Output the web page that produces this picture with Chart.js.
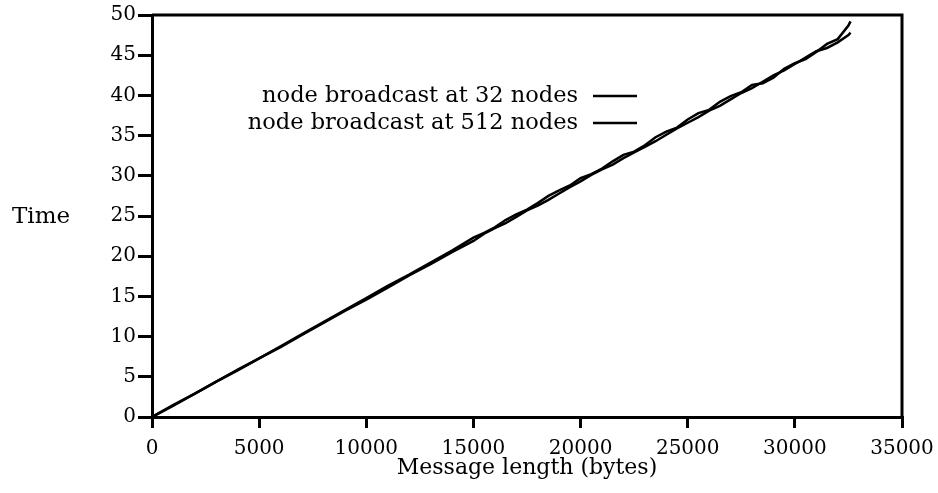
<!DOCTYPE html>
<html>
<head>
<meta charset="utf-8">
<script src="https://cdn.jsdelivr.net/npm/chart.js@4.4.1/dist/chart.umd.min.js"></script>
<style>
  html, body { margin: 0; padding: 0; background: #fff; }
  #wrap { width: 938px; height: 493px; }
</style>
</head>
<body>
<div id="wrap"><canvas id="timeChart"></canvas></div>
<script>
// Message length (bytes)
const bytes = [0, 1000, 2000, 3000, 4000, 5000, 6000, 7000, 8000, 9000, 10000,
    11000, 12000, 13000, 14000, 15000, 15500, 16000, 16500, 17000, 17500,
    18000, 18500, 19000, 19500, 20000, 20500, 21000, 21500, 22000, 22500,
    23000, 23500, 24000, 24500, 25000, 25500, 26000, 26500, 27000, 27500,
    28000, 28500, 29000, 29500, 30000, 30500, 31000, 31500, 32000, 32500, 32600];

// Time, node broadcast at 32 nodes
const time32 = [0, 1.5, 2.9, 4.4, 5.9, 7.3, 8.8, 10.3, 11.8, 13.3, 14.8,
    16.3, 17.7, 19.2, 20.7, 22.3, 22.9, 23.6, 24.5, 25.2, 25.8,
    26.6, 27.5, 28.2, 28.8, 29.7, 30.2, 30.9, 31.8, 32.6, 33.0,
    33.8, 34.8, 35.5, 36.0, 37.0, 37.8, 38.2, 39.2, 39.9, 40.4,
    41.3, 41.5, 42.2, 43.3, 44.0, 44.5, 45.4, 46.4, 47.0, 48.7, 49.2];

// Time, node broadcast at 512 nodes
const time512 = [0, 1.4, 2.9, 4.4, 5.8, 7.3, 8.7, 10.2, 11.7, 13.2, 14.6,
    16.1, 17.6, 19.0, 20.5, 21.9, 22.8, 23.5, 24.1, 24.9, 25.7,
    26.3, 27.0, 27.8, 28.6, 29.3, 30.1, 30.8, 31.4, 32.2, 32.9,
    33.6, 34.3, 35.1, 35.9, 36.6, 37.3, 38.1, 38.7, 39.5, 40.3,
    40.9, 41.7, 42.5, 43.1, 43.9, 44.7, 45.5, 45.9, 46.6, 47.5, 47.8];

const seriesLabels = ['node broadcast at 32 nodes', 'node broadcast at 512 nodes'];

const FONT = "'DejaVu Serif', 'Liberation Serif', serif";
Chart.defaults.font.family = FONT;
Chart.defaults.font.size = 20;
Chart.defaults.color = '#000';

function toPoints(ys) {
    return bytes.map((b, i) => ({ x: b, y: ys[i] }));
}

// box, legend and horizontal "Time" label
const extras = {
    id: 'extras',
    afterDraw(chart) {
        const ctx = chart.ctx;
        const a = chart.chartArea;
        ctx.save();
        ctx.strokeStyle = '#000';
        ctx.lineWidth = 3;
        ctx.beginPath();
        ctx.moveTo(a.left, a.top);
        ctx.lineTo(a.right, a.top);
        ctx.lineTo(a.right, a.bottom);
        ctx.stroke();

        ctx.fillStyle = '#000';
        ctx.textBaseline = 'middle';
        ctx.textAlign = 'left';
        ctx.font = '23px ' + FONT;
        ctx.fillText('Time', 12, 217);

        ctx.font = '22.5px ' + FONT;
        ctx.textAlign = 'right';
        ctx.lineWidth = 2.5;
        chart.data.datasets.forEach((ds, i) => {
            const y = 96 + i * 27;
            ctx.fillText(ds.label, 578, y);
            ctx.beginPath();
            ctx.moveTo(593, y);
            ctx.lineTo(637, y);
            ctx.stroke();
        });
        ctx.restore();
    }
};

const ctx = document.getElementById('timeChart').getContext('2d');
new Chart(ctx, {
    type: 'line',
    data: {
        datasets: [
            { label: seriesLabels[0], data: toPoints(time32) },
            { label: seriesLabels[1], data: toPoints(time512) }
        ].map(d => Object.assign(d, {
            borderColor: '#000',
            borderWidth: 2.5,
            pointRadius: 0,
            tension: 0,
            fill: false
        }))
    },
    options: {
        responsive: true,
        maintainAspectRatio: false,
        animation: false,
        layout: { padding: { left: 0, top: 15, right: 36, bottom: 0 } },
        plugins: {
            legend: { display: false },
            tooltip: { enabled: false }
        },
        scales: {
            x: {
                type: 'linear',
                min: 0,
                max: 35000,
                afterFit(scale) {
                    scale.height = 76;
                    scale.paddingLeft = 0;
                    scale.paddingRight = 0;
                },
                border: { color: '#000', width: 3 },
                grid: {
                    drawOnChartArea: false,
                    tickLength: 11,
                    tickColor: '#000',
                    lineWidth: 3
                },
                ticks: {
                    stepSize: 5000,
                    maxRotation: 0,
                    padding: 9,
                    callback: v => String(v)
                },
                title: {
                    display: true,
                    text: 'Message length (bytes)',
                    font: { size: 22 },
                    padding: { top: 0, bottom: 12 }
                }
            },
            y: {
                min: 0,
                max: 50,
                afterFit(scale) {
                    scale.width = 152;
                    scale.paddingTop = 0;
                    scale.paddingBottom = 0;
                },
                border: { color: '#000', width: 3 },
                grid: {
                    drawOnChartArea: false,
                    tickLength: 14,
                    tickColor: '#000',
                    lineWidth: 3
                },
                ticks: { stepSize: 5, padding: 2 }
            }
        }
    },
    plugins: [extras]
});
</script>
</body>
</html>
